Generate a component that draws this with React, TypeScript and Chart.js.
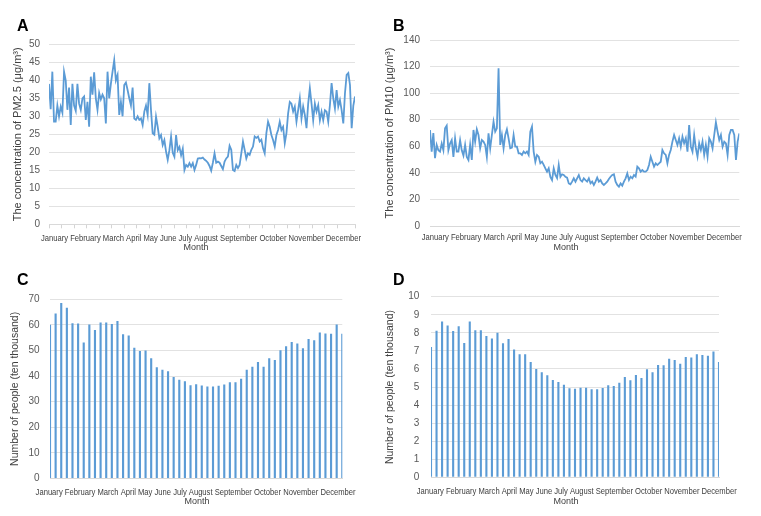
import React, { useEffect, useRef } from "react";
import { Chart, registerables } from "chart.js";

Chart.register(...registerables);

const FONT = "'Liberation Sans', Arial, Helvetica, sans-serif";

const monthLabels = [
  "January", "February", "March", "April", "May", "June",
  "July", "August", "September", "October", "November", "December",
];
const xAxisTitle = "Month";

// Panel A: daily PM2.5 concentration (sampled about every two days)
const pm25 = [
  39, 32, 42.4, 28.5, 28.5, 33, 30, 32.7, 31, 42.4,
  40, 31.8, 38, 27.6, 39, 33, 31.5, 39, 33.5, 31.8,
  35, 35.5, 29, 34, 27.1, 41, 36, 42.2, 35, 31.8,
  36.5, 34.7, 36, 35, 28, 42.4, 35, 39, 42.4, 45.6,
  40, 41.5, 30.4, 34, 30, 38.7, 39.4, 37.3, 35, 33,
  38, 29.4, 29, 30, 29, 29.4, 27.6, 31.3, 33, 30.4,
  39.2, 31.7, 25.3, 24.9, 29.9, 27.1, 23.9, 24.8, 22, 23.4,
  20.2, 17.9, 20.6, 24.4, 19.9, 18.8, 24.8, 20.6, 21.5, 19.2,
  21, 15.1, 16.5, 16, 17, 16, 17, 15.1, 16.5, 18.3,
  18.4, 18.3, 18.5, 18,
  17.6, 17.1, 16.2, 14.9, 17.1, 19.7, 17.1, 17.4, 17.1, 16.2,
  15.3, 17.4, 18.3, 18.8, 21.8, 20.7, 15.1, 14.8, 16.5, 15.6,
  16.5, 19.7, 23, 20.7, 18.3, 19.7, 19.3, 20.7, 21.6, 24.4,
  24, 24.4, 23, 23.5, 21.1, 19.7, 25.3, 28.5, 27.1, 24.8,
  23.4, 21.6, 24.8, 26.2, 28.5, 26.2, 27.1, 22.5, 25.3, 30.8,
  34, 33.5, 31.3, 32.7, 28.5, 31.7, 35, 29.4, 32.7, 30.4,
  26.7, 33.5, 37.8, 33.5, 28.9, 33.5, 31.3, 33.1, 28.9, 31.3,
  28.9, 31.7, 31.3, 28.5, 33.1, 39.2, 35, 32.2, 37.3, 32.7,
  34.5, 31.7, 28, 36.4, 41.5, 42, 38.7, 26.7, 33, 35.5,
];

// Panel B: daily PM10 concentration (sampled about every two days)
const pm10 = [
  72.3, 56, 70, 51, 61, 57, 56, 62, 57, 73.5,
  75.5, 57, 62, 64.7, 52, 66, 56, 56, 64.7, 57,
  53, 61, 52, 49.7, 61, 49.7, 72.3, 63.5, 72.8, 68.5,
  58.5, 64.7, 63.5, 61, 52, 69.7, 58.5, 68.5, 78.5, 71,
  73.5, 118.7, 61, 68.5, 58.5, 68.5, 72.8, 66, 58.5, 59,
  68.5, 59.7, 59.7, 54.7, 54.7, 53.5, 56, 54.7, 56, 53.5,
  71, 74.8, 56, 48.4, 53.5, 52.2, 47.2, 48.4, 46, 43.4,
  40.9, 43.4, 37, 34.6, 43.4, 38.4, 36, 45.9, 37, 38.9,
  38.4, 37, 36.4, 32, 31.4, 33.4, 35.9, 33.4,
  35.9, 38.4, 34.6, 33.4, 35.9, 34.6, 33.4, 35.9, 32.1, 33.4,
  30.9, 33.4, 36.4, 33.4, 34.6, 32.1, 30.9, 32.1, 33.4, 35.4,
  37.1, 38.4, 38.9, 33.4, 30.9, 29.6, 32.1, 30.4, 33.4, 35.9,
  39.6, 34.6, 37.1, 35.9, 38.4, 37.1, 44.7, 43.4, 40.9, 42.1,
  40.9, 40.9, 42.1, 45.9, 52.2, 48.4, 44.7, 47.2, 45.9, 47.2,
  48.4, 57.2, 54.7, 53.5, 47.2, 53.5, 57.2, 63.5, 68.5, 64.7,
  61, 66, 59.7, 67.2, 62.2, 66, 55.9, 76, 59.7, 55.9,
  68.5, 58.5, 52.2, 62.2, 57.2, 63.5, 53.5, 61, 52.2, 66,
  63.5, 58.5, 68.5, 78, 71, 64.7, 68.5, 59.7, 63.5, 62.2,
  53.4, 68.5, 72.3, 72.3, 68.5, 49.7, 63.5, 69.7,
];

// Panel C: weekly number of people (ten thousand)
const peopleC = [
  60.1, 64.5, 68.6, 66.7, 60.6, 60.5, 53.1, 60.2, 58, 60.9,
  60.9, 60.4, 61.5, 56.3, 55.9, 51.1, 49.8, 50, 47, 43.5,
  42.5, 41.9, 39.6, 38.6, 38, 36.4, 36.8, 36.3, 35.9, 35.9,
  36.2, 36.7, 37.6, 37.6, 39, 42.5, 43.7, 45.5, 43.7, 47,
  46.3, 50.1, 51.7, 53.3, 52.7, 50.9, 54.5, 54, 57, 56.6,
  56.5, 60.2, 56.5,
];

// Panel D: weekly number of people (ten thousand)
const peopleD = [
  7.21, 8.12, 8.62, 8.41, 8.1, 8.36, 7.44, 8.63, 8.14, 8.14,
  7.82, 7.69, 8.01, 7.42, 7.66, 7.07, 6.81, 6.81, 6.38, 6,
  5.81, 5.65, 5.39, 5.28, 5.13, 4.93, 4.91, 4.96, 4.96, 4.87,
  4.87, 4.94, 5.09, 5.06, 5.24, 5.55, 5.37, 5.66, 5.5, 5.98,
  5.81, 6.22, 6.2, 6.57, 6.49, 6.29, 6.66, 6.64, 6.81, 6.77,
  6.73, 6.96, 6.38,
];

const ticksA = [0, 5, 10, 15, 20, 25, 30, 35, 40, 45, 50];
const ticksB = [0, 20, 40, 60, 80, 100, 120, 140];
const ticksC = [0, 10, 20, 30, 40, 50, 60, 70];
const ticksD = [0, 1, 2, 3, 4, 5, 6, 7, 8, 9, 10];

const titleA = "The concentration of PM2.5 (μg/m³)";
const titleB = "The concentration of PM10 (μg/m³)";
const titlePeople = "Number of people (ten thousand)";

type Panel = {
  letter: string;
  left: number; top: number; w: number; h: number;
  kind: "line" | "bar";
  values: number[];
  yTicks: number[];
  yTitle: string;
  area: { l: number; r: number; t: number; b: number };
  labelPad: number;
  titleCenter: number;
  titleSize: number;
  xTickStep?: number;
  rowX: number; rowY: number; monthX: number; monthY: number;
  letterX: number; letterY: number;
};

const panels: Panel[] = [
  {
    letter: "A", left: 0, top: 0, w: 380, h: 258, kind: "line", values: pm25,
    yTicks: ticksA, yTitle: titleA, area: { l: 49, r: 355, t: 44.3, b: 224.3 },
    labelPad: 9, titleCenter: 17.5, titleSize: 11, xTickStep: 7.5,
    rowX: 201, rowY: 239, monthX: 196, monthY: 248, letterX: 17, letterY: 18,
  },
  {
    letter: "B", left: 380, top: 0, w: 381, h: 258, kind: "line", values: pm10,
    yTicks: ticksB, yTitle: titleB, area: { l: 50, r: 359.3, t: 40, b: 226 },
    labelPad: 10, titleCenter: 10, titleSize: 11,
    rowX: 201.7, rowY: 238, monthX: 186, monthY: 248, letterX: 393, letterY: 18,
  },
  {
    letter: "C", left: 0, top: 258, w: 380, h: 258, kind: "bar", values: peopleC,
    yTicks: ticksC, yTitle: titlePeople, area: { l: 50, r: 342.3, t: 41.3, b: 220.5 },
    labelPad: 10.5, titleCenter: 15.5, titleSize: 10.5,
    rowX: 195.6, rowY: 234.7, monthX: 197, monthY: 244, letterX: 17, letterY: 272,
  },
  {
    letter: "D", left: 380, top: 258, w: 381, h: 258, kind: "bar", values: peopleD,
    yTicks: ticksD, yTitle: titlePeople, area: { l: 51, r: 339, t: 38.7, b: 219.3 },
    labelPad: 11.7, titleCenter: 10, titleSize: 10.5,
    rowX: 196.7, rowY: 234, monthX: 186, monthY: 244, letterX: 393, letterY: 272,
  },
];

function monthPlugin(p: Panel) {
  return {
    id: "monthRow" + p.letter,
    afterDraw(chart: any) {
      const ctx = chart.ctx;
      ctx.save();
      ctx.fillStyle = "#404040";
      ctx.font = `9px ${FONT}`;
      ctx.textAlign = "center";
      ctx.textBaseline = "middle";
      ctx.fillText(monthLabels.join(" "), p.rowX, p.rowY, 320);
      ctx.fillText(xAxisTitle, p.monthX, p.monthY);
      ctx.restore();
    },
  };
}

function buildConfig(p: Panel): any {
  const yt = p.yTicks;
  const y = {
    type: "linear",
    min: yt[0],
    max: yt[yt.length - 1],
    afterFit: (s: any) => { s.width = p.area.l; },
    afterBuildTicks: (s: any) => { s.ticks = yt.map((v) => ({ value: v })); },
    ticks: {
      stepSize: yt[1] - yt[0],
      padding: p.labelPad,
      color: "#595959",
      font: { family: FONT, size: 10 },
    },
    grid: { color: "#e2e2e2", drawTicks: false, lineWidth: 1 },
    border: { display: false },
    title: {
      display: true,
      text: p.yTitle,
      color: "#404040",
      font: { family: FONT, size: p.titleSize },
      padding: { top: p.titleCenter - (p.titleSize * 1.2) / 2, bottom: 0 },
    },
  };
  const layout = {
    padding: { left: 0, top: p.area.t, right: p.w - p.area.r, bottom: 0 },
  };
  const xHeight = p.h - p.area.b;
  const common = {
    animation: false,
    responsive: false,
    maintainAspectRatio: false,
    layout,
    plugins: { legend: { display: false }, tooltip: { enabled: false } },
  };
  if (p.kind === "line") {
    return {
      type: "line",
      data: {
        datasets: [
          {
            data: p.values.map((v, i) => ({ x: i, y: v })),
            borderColor: "#5b9bd5",
            borderWidth: 1.8,
            pointRadius: 0,
            tension: 0,
            fill: false,
          },
        ],
      },
      options: {
        ...common,
        scales: {
          x: {
            type: "linear",
            min: 0,
            max: p.values.length - 1,
            afterFit: (s: any) => { s.height = xHeight; },
            ticks: { display: false, stepSize: p.xTickStep ?? 7.5 },
            grid: {
              display: !!p.xTickStep,
              drawOnChartArea: false,
              drawTicks: true,
              tickLength: 4,
              color: "#d4d4d4",
            },
            border: { display: true, color: "#d9d9d9" },
          },
          y,
        },
      },
      plugins: [monthPlugin(p)],
    };
  }
  return {
    type: "bar",
    data: {
      labels: p.values.map((_, i) => `Week ${i + 1}`),
      datasets: [
        {
          data: p.values,
          backgroundColor: "#5b9bd5",
          barPercentage: 0.38,
          categoryPercentage: 1,
        },
      ],
    },
    options: {
      ...common,
      scales: {
        x: {
          type: "category",
          offset: false,
          afterFit: (s: any) => { s.height = xHeight; },
          ticks: { display: false },
          grid: { display: false },
          border: { display: true, color: "#d9d9d9" },
        },
        y,
      },
    },
    plugins: [monthPlugin(p)],
  };
}

function ChartPanel({ p }: { p: Panel }) {
  const ref = useRef<HTMLCanvasElement>(null);
  useEffect(() => {
    if (!ref.current) return;
    const chart = new Chart(ref.current, buildConfig(p));
    return () => chart.destroy();
  }, [p]);
  return (
    <canvas
      ref={ref}
      width={p.w}
      height={p.h}
      style={{ position: "absolute", left: p.left, top: p.top, width: p.w, height: p.h }}
    />
  );
}

export default function App() {
  return (
    <div
      style={{
        position: "absolute",
        left: 0,
        top: 0,
        width: 761,
        height: 516,
        background: "#ffffff",
        overflow: "hidden",
      }}
    >
      {panels.map((p) => (
        <ChartPanel key={p.letter} p={p} />
      ))}
      {panels.map((p) => (
        <div
          key={"L" + p.letter}
          style={{
            position: "absolute",
            left: p.letterX,
            top: p.letterY,
            font: `bold 16px ${FONT}`,
            lineHeight: "16px",
            color: "#000000",
          }}
        >
          {p.letter}
        </div>
      ))}
    </div>
  );
}
